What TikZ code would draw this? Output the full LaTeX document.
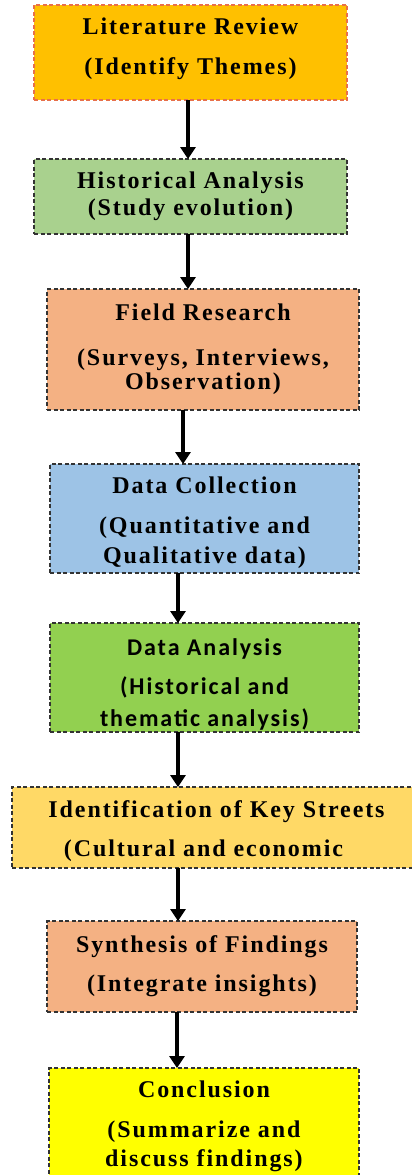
\documentclass[tikz,border=0pt]{standalone}
\usepackage{fontspec}
\usepackage{tikz}
\usetikzlibrary{arrows.meta,positioning}
\newfontfamily\boxfont{Liberation Serif}[LetterSpace=8]
\newfontfamily\boxsans{Carlito}[LetterSpace=8]
\definecolor{litfill}{HTML}{FFC000}
\definecolor{litline}{HTML}{E8704A}
\definecolor{histfill}{HTML}{A9D18E}
\definecolor{peach}{HTML}{F4B183}
\definecolor{collfill}{HTML}{9DC3E6}
\definecolor{analfill}{HTML}{92D050}
\definecolor{keysfill}{HTML}{FFD966}
\definecolor{conclfill}{HTML}{FFFF00}
\tikzset{
    stepbox/.style={
        rectangle,
        draw=black!80,
        dash pattern=on 4pt off 2.5pt,
        line width=1.2pt,
        inner sep=0pt,
        outer sep=0pt,
        align=center,
        font=\boxfont\bfseries\fontsize{24}{28}\selectfont,
    },
    flow/.style={
        -{Triangle[width=15pt,length=12pt]},
        line width=4pt,
    },
    node distance=55pt,
  }

\begin{document}
\begin{tikzpicture}[x=1pt,y=1pt]
              \clip (0,0) rectangle (412,-1175);

              \node [stepbox,draw=litline,fill=litfill,minimum width=313pt,minimum height=95pt] (lit) at (190.5,-52.5)
                    {Literature Review\\[12pt](Identify Themes)\rule[-13pt]{0pt}{1pt}};
              \node [stepbox,fill=histfill,minimum width=313pt,minimum height=75pt,below=59pt of lit] (hist)
                    {Historical Analysis\\[-1pt](Study evolution)};
              \node [stepbox,fill=peach,minimum width=312pt,minimum height=121pt,below=of hist,xshift=12.5pt] (field)
                    {Field Research\\[17pt](Surveys, Interviews,\\[-4pt]Observation)};
              \node [stepbox,fill=collfill,minimum width=309pt,minimum height=109pt,below=54pt of field,xshift=1.5pt] (coll)
                    {\rule{0pt}{24.5pt}Data Collection\\[12pt](Quantitative and\\[2pt]Qualitative data)};
              \node [stepbox,fill=analfill,minimum width=309pt,minimum height=109pt,below=50pt of coll,
                     font=\boxsans\bfseries\fontsize{24}{28}\selectfont] (anal)
                    {\rule{0pt}{30pt}Data Analysis\\[11pt](Historical and\\[4pt]thematic analysis)};
              \node [stepbox,fill=keysfill,minimum width=409pt,minimum height=81pt,below=of anal,xshift=12pt] (keys)
                    {\rule{0pt}{23.5pt}Identification of Key Streets\\[11pt](Cultural and economic\hspace*{26pt}};
              \node [stepbox,fill=peach,minimum width=310pt,minimum height=91pt,below=53pt of keys,xshift=-14.5pt] (synth)
                    {Synthesis of Findings\\[11pt](Integrate insights)};
              \node [stepbox,fill=conclfill,minimum width=310pt,minimum height=117pt,below=56pt of synth,xshift=2pt] (concl)
                    {Conclusion\\[12pt](Summarize and\\[1pt]discuss findings)};

              \draw [flow] ([xshift=-2.5pt]lit.south) -- ([xshift=-2.5pt]hist.north);
              \draw [flow] ([xshift=-2.5pt]hist.south) -- ([xshift=-15pt]field.north);
              \draw [flow] ([xshift=-20pt]field.south) -- ([xshift=-21.5pt]coll.north);
              \draw [flow] ([xshift=-26.5pt]coll.south) -- ([xshift=-26.5pt]anal.north);
              \draw [flow] ([xshift=-26.5pt]anal.south) -- ([xshift=-38.5pt]keys.north);
              \draw [flow] ([xshift=-38.5pt]keys.south) -- ([xshift=-24pt]synth.north);
              \draw [flow] ([xshift=-25pt]synth.south) -- ([xshift=-27pt]concl.north);

            \end{tikzpicture}
\end{document}
